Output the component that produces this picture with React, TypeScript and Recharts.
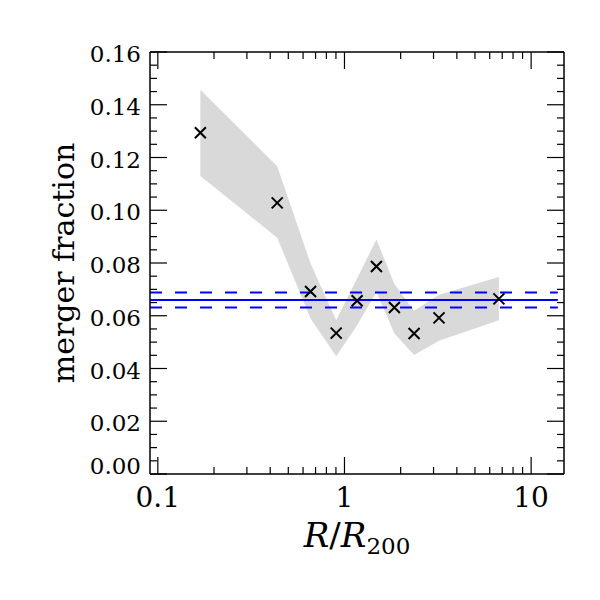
import React from "react";
import {
  ComposedChart,
  Area,
  Scatter,
  XAxis,
  YAxis,
  ReferenceLine,
} from "recharts";

// radial bins (R/R200) and merger fraction with its 1-sigma band
const radius = [0.169, 0.436, 0.658, 0.903, 1.169, 1.483, 1.851, 2.36, 3.21, 6.72];
const fraction = [0.1294, 0.1028, 0.0692, 0.0534, 0.0657, 0.0787, 0.0631, 0.0533, 0.0592, 0.0664];
const upper = [0.1457, 0.1167, 0.0798, 0.0583, 0.0742, 0.0889, 0.072, 0.0619, 0.068, 0.0747];
const lower = [0.113, 0.0896, 0.059, 0.0446, 0.0564, 0.069, 0.0533, 0.0451, 0.0505, 0.0583];

// field mean and its error
const fieldMean = 0.066;
const fieldHigh = 0.0688;
const fieldLow = 0.0631;
const fieldRange = [0.0908, 13.9];

const xDomain = [0.0908, 15];
const xMajor = [0.1, 1, 10];
const xMajorLabels = ["0.1", "1", "10"];
const xMinor = [0.2, 0.3, 0.4, 0.5, 0.6, 0.7, 0.8, 0.9, 2, 3, 4, 5, 6, 7, 8, 9];

const yMajor = [0, 0.02, 0.04, 0.06, 0.08, 0.1, 0.12, 0.14, 0.16];
const yMajorLabels = ["0.00", "0.02", "0.04", "0.06", "0.08", "0.10", "0.12", "0.14", "0.16"];
const yMinor = [
  0.005, 0.01, 0.015, 0.025, 0.03, 0.035, 0.045, 0.05, 0.055, 0.065, 0.07, 0.075,
  0.085, 0.09, 0.095, 0.105, 0.11, 0.115, 0.125, 0.13, 0.135, 0.145, 0.15, 0.155,
];

const data = radius.map((r, i) => ({
  r,
  frac: fraction[i],
  band: [lower[i], upper[i]],
}));

const FONT = "'DejaVu Serif', serif";
const MAJOR = 17;
const MINOR = 7;

const xTicks = [...xMajor, ...xMinor].sort((a, b) => a - b);
const yTicks = [...yMajor, ...yMinor].sort((a, b) => a - b);

const isMajor = (list: number[], v: number) => list.some((m) => Math.abs(m - v) < 1e-9);

const BottomTick = ({ x, y, payload }: any) => {
  const v = payload.value;
  const i = xMajor.findIndex((m) => Math.abs(m - v) < 1e-9);
  return (
    <g>
      <line x1={x} y1={y} x2={x} y2={y - (i >= 0 ? MAJOR : MINOR)} stroke="#000" strokeWidth={1.2} />
      {i >= 0 && (
        <text x={x} y={y + 33} textAnchor="middle" fontFamily={FONT} fontSize={28} fill="#000">
          {xMajorLabels[i]}
        </text>
      )}
    </g>
  );
};

const TopTick = ({ x, y, payload }: any) => (
  <line x1={x} y1={y} x2={x} y2={y + (isMajor(xMajor, payload.value) ? MAJOR : MINOR)} stroke="#000" strokeWidth={1.2} />
);

const LeftTick = ({ x, y, payload }: any) => {
  const v = payload.value;
  const i = yMajor.findIndex((m) => Math.abs(m - v) < 1e-9);
  return (
    <g>
      <line x1={x} y1={y} x2={x + (i >= 0 ? MAJOR : MINOR)} y2={y} stroke="#000" strokeWidth={1.2} />
      {i >= 0 && (
        <text x={x - 9} y={v === 0 ? y : y + 10} textAnchor="end" fontFamily={FONT} fontSize={23} fill="#000">
          {yMajorLabels[i]}
        </text>
      )}
    </g>
  );
};

const RightTick = ({ x, y, payload }: any) => (
  <line x1={x} y1={y} x2={x - (isMajor(yMajor, payload.value) ? MAJOR : MINOR)} y2={y} stroke="#000" strokeWidth={1.2} />
);

const Cross = ({ cx, cy }: any) => {
  const s = 5.5;
  return (
    <path
      d={`M${cx - s},${cy - s}L${cx + s},${cy + s}M${cx - s},${cy + s}L${cx + s},${cy - s}`}
      stroke="#000"
      strokeWidth={2}
      fill="none"
    />
  );
};

const xLabel = ({ viewBox }: any) => (
  <text x={viewBox.x + viewBox.width / 2} y={viewBox.y + 73} textAnchor="middle" fontFamily={FONT} fill="#000">
    <tspan fontSize={34} fontStyle="italic">R</tspan>
    <tspan fontSize={34}>/</tspan>
    <tspan fontSize={34} fontStyle="italic">R</tspan>
    <tspan fontSize={23} dy={7}>200</tspan>
  </text>
);

const yLabel = ({ viewBox }: any) => {
  const x = viewBox.x + 24;
  const y = viewBox.y + viewBox.height / 2;
  return (
    <text x={x} y={y} transform={`rotate(-90 ${x} ${y})`} textAnchor="middle" fontFamily={FONT} fontSize={30} fill="#000">
      merger fraction
    </text>
  );
};

export default function App() {
  return (
    <div style={{ position: "absolute", left: 0, top: 0, background: "#fff" }}>
      <ComposedChart width={600} height={600} data={data} margin={{ top: 50, right: 30, bottom: 66, left: 50 }}>
        <XAxis
          dataKey="r"
          type="number"
          scale="log"
          domain={xDomain}
          allowDataOverflow
          ticks={xTicks}
          interval={0}
          tick={<BottomTick />}
          tickLine={false}
          tickSize={0}
          tickMargin={0}
          height={60}
          axisLine={{ stroke: "#000", strokeWidth: 1.5 }}
          label={xLabel}
        />
        <XAxis
          xAxisId="top"
          orientation="top"
          dataKey="r"
          type="number"
          scale="log"
          domain={xDomain}
          allowDataOverflow
          ticks={xTicks}
          interval={0}
          tick={<TopTick />}
          tickLine={false}
          tickSize={0}
          tickMargin={0}
          height={2}
          axisLine={{ stroke: "#000", strokeWidth: 1.5 }}
        />
        <YAxis
          type="number"
          domain={[0, 0.16]}
          allowDataOverflow
          ticks={yTicks}
          interval={0}
          tick={<LeftTick />}
          tickLine={false}
          tickSize={0}
          tickMargin={0}
          width={100}
          axisLine={{ stroke: "#000", strokeWidth: 1.5 }}
          label={yLabel}
        />
        <YAxis
          yAxisId="right"
          orientation="right"
          type="number"
          domain={[0, 0.16]}
          allowDataOverflow
          ticks={yTicks}
          interval={0}
          tick={<RightTick />}
          tickLine={false}
          tickSize={0}
          tickMargin={0}
          width={6}
          axisLine={{ stroke: "#000", strokeWidth: 1.5 }}
        />
        <Area
          type="linear"
          dataKey="band"
          stroke="none"
          fill="#d9d9d9"
          fillOpacity={1}
          isAnimationActive={false}
          activeDot={false}
        />
        <ReferenceLine
          segment={[{ x: fieldRange[0], y: fieldMean }, { x: fieldRange[1], y: fieldMean }]}
          stroke="#0000ff"
          strokeWidth={2}
        />
        <ReferenceLine
          segment={[{ x: fieldRange[0], y: fieldHigh }, { x: fieldRange[1], y: fieldHigh }]}
          stroke="#0000ff"
          strokeWidth={2}
          strokeDasharray="12 13"
        />
        <ReferenceLine
          segment={[{ x: fieldRange[0], y: fieldLow }, { x: fieldRange[1], y: fieldLow }]}
          stroke="#0000ff"
          strokeWidth={2}
          strokeDasharray="12 13"
        />
        <Scatter data={data} dataKey="frac" shape={<Cross />} isAnimationActive={false} />
      </ComposedChart>
    </div>
  );
}
